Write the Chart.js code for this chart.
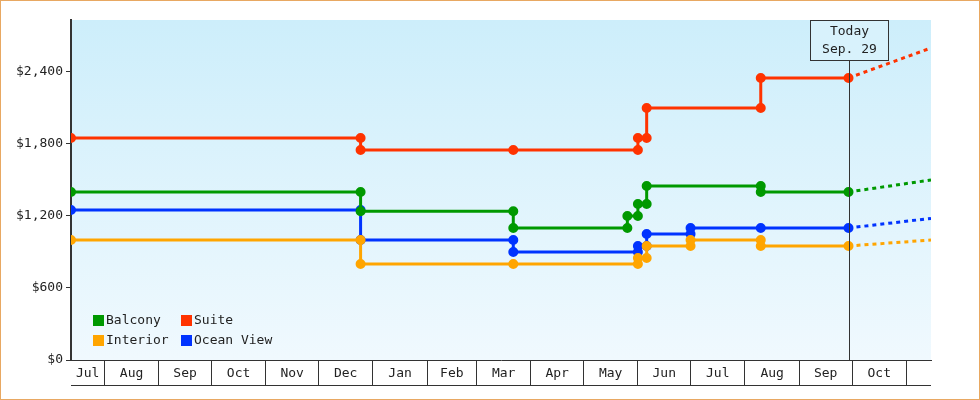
<!DOCTYPE html>
<html><head><meta charset="utf-8">
<script src="https://cdn.jsdelivr.net/npm/chart.js@4/dist/chart.umd.min.js"></script>
<style>
html,body{margin:0;padding:0;background:#fff;}
#wrap{position:absolute;left:0;top:0;width:978px;height:398px;border:1px solid #e8a862;}
</style></head><body>
<div id="wrap"><canvas id="c" width="978" height="398"></canvas></div>
<script>
const seriesNames = ["Balcony","Suite","Interior","Ocean View"];
const seriesColors = ["#009900","#ff3300","#ffa500","#0033ff"];
const balconyDates = ["2014-07-13","2014-12-25","2014-12-25","2015-03-22","2015-03-22","2015-05-26","2015-05-26","2015-06-01","2015-06-01","2015-06-06","2015-06-06","2015-08-10","2015-08-10","2015-09-29"];
const balconyPrices = [1400,1400,1240,1240,1100,1100,1200,1200,1300,1300,1450,1450,1400,1400];
const suiteDates = ["2014-07-13","2014-12-25","2014-12-25","2015-03-22","2015-06-01","2015-06-01","2015-06-06","2015-06-06","2015-08-10","2015-08-10","2015-09-29"];
const suitePrices = [1850,1850,1750,1750,1750,1850,1850,2100,2100,2350,2350];
const interiorDates = ["2014-07-13","2014-12-25","2014-12-25","2015-03-22","2015-06-01","2015-06-01","2015-06-06","2015-06-06","2015-07-01","2015-07-01","2015-08-10","2015-08-10","2015-09-29"];
const interiorPrices = [1000,1000,800,800,800,850,850,950,950,1000,1000,950,950];
const oceanDates = ["2014-07-13","2014-12-25","2014-12-25","2015-03-22","2015-03-22","2015-06-01","2015-06-01","2015-06-06","2015-06-06","2015-07-01","2015-07-01","2015-08-10","2015-09-29"];
const oceanPrices = [1250,1250,1000,1000,900,900,950,950,1050,1050,1100,1100,1100];
const todayDate = "2015-09-29";
const todayLabel = ["Today","Sep. 29"];
const forecastEndDate = "2015-11-15";
const forecastPrices = [1500,2600,1000,1180]; // Balcony, Suite, Interior, Ocean View
const monthStarts = ["2014-08-01","2014-09-01","2014-10-01","2014-11-01","2014-12-01","2015-01-01","2015-02-01","2015-03-01","2015-04-01","2015-05-01","2015-06-01","2015-07-01","2015-08-01","2015-09-01","2015-10-01","2015-11-01"];
const monthLabels = ["Jul","Aug","Sep","Oct","Nov","Dec","Jan","Feb","Mar","Apr","May","Jun","Jul","Aug","Sep","Oct"];
const startDate = "2014-07-13";
const yTicks = [0,600,1200,1800,2400];

const day = s => Date.parse(s+"T00:00:00Z")/86400000;
const X0 = day(startDate), X1 = day(forecastEndDate);
const allDates = [balconyDates,suiteDates,interiorDates,oceanDates];
const allPrices = [balconyPrices,suitePrices,interiorPrices,oceanPrices];
const datasets = [];
allDates.forEach((d,i)=>{
  datasets.push({label:seriesNames[i],data:d.map((s,j)=>({x:day(s),y:allPrices[i][j]})),
    borderColor:seriesColors[i],backgroundColor:seriesColors[i],borderWidth:3,pointRadius:3.5,pointHoverRadius:3.5,tension:0});
});
allDates.forEach((d,i)=>{
  datasets.push({label:"_f",data:[{x:day(todayDate),y:allPrices[i][allPrices[i].length-1]},{x:X1,y:forecastPrices[i]}],
    borderColor:seriesColors[i],borderWidth:3,borderDash:[4,4],pointRadius:0,tension:0});
});
const starts = [X0].concat(monthStarts.map(day));
const ends = monthStarts.map(day).concat([X1]);
const mids = monthLabels.map((l,i)=>(starts[i]+ends[i])/2);
const FONT = {family:"'DejaVu Sans Mono', monospace", size:13};

const plugin = {
  id:'deco',
  beforeDraw(ch){
    const a=ch.chartArea, c=ch.ctx;
    const g=c.createLinearGradient(0,a.top,0,a.bottom);
    g.addColorStop(0,'#cdeefb'); g.addColorStop(1,'#f0f9fe');
    c.fillStyle=g; c.fillRect(a.left,a.top,a.right-a.left,a.bottom-a.top);
  },
  afterDatasetsDraw(ch){
    const a=ch.chartArea, c=ch.ctx, xs=ch.scales.x;
    const tx=Math.round(xs.getPixelForValue(day(todayDate)))+0.5;
    c.save();
    c.strokeStyle='#333'; c.lineWidth=1;
    c.beginPath(); c.moveTo(tx,a.top); c.lineTo(tx,a.bottom); c.stroke();
    c.fillStyle='#d8f2fc'; c.fillRect(tx-39,a.top,78,40); c.strokeRect(tx-39,a.top+0.5,78,40);
    c.fillStyle='#222'; c.font="13px 'DejaVu Sans Mono'"; c.textAlign='center'; c.textBaseline='middle';
    c.fillText(todayLabel[0],tx,a.top+12); c.fillText(todayLabel[1],tx,a.top+30);
    // bottom line of axis cells
    c.beginPath(); c.moveTo(a.left,a.bottom+25.5); c.lineTo(a.right,a.bottom+25.5); c.stroke();
    // legend
    const pos=[[a.left+22,a.bottom-40],[a.left+110,a.bottom-40],[a.left+22,a.bottom-20],[a.left+110,a.bottom-20]];
    c.textAlign='left';
    seriesNames.forEach((n,i)=>{
      const [lx,ly]=pos[i];
      c.fillStyle=seriesColors[i]; c.fillRect(lx,ly-5,11,11);
      c.fillStyle='#222'; c.fillText(n,lx+13,ly+1);
    });
    c.restore();
  }
};

new Chart(document.getElementById('c'),{
  type:'line',
  data:{datasets},
  options:{
    responsive:false,animation:false,
    layout:{padding:{left:0,right:48,top:19,bottom:13}},
    plugins:{legend:{display:false},tooltip:{enabled:false}},
    scales:{
      x:{type:'linear',min:X0,max:X1,
        afterBuildTicks(s){s.ticks=starts.slice(1).map(v=>({value:v})).concat(mids.map(v=>({value:v,mid:true})));},
        afterFit(s){s.height=26;},
        grid:{drawOnChartArea:false,tickLength:25,color:ctx=>(ctx.tick&&ctx.tick.mid)?'rgba(0,0,0,0)':'#333',lineWidth:1},
        border:{color:'#333',width:1},
        ticks:{autoSkip:false,maxRotation:0,padding:-19,color:'#222',font:FONT,
          callback:(v)=>{const i=mids.findIndex(m=>Math.abs(m-v)<0.01);return i>=0?monthLabels[i]:'';}}
      },
      y:{min:0,max:2833,
        afterBuildTicks(s){s.ticks=yTicks.map(v=>({value:v}));},
        afterFit(s){s.width=70;},
        grid:{drawOnChartArea:false,tickLength:5,color:'#333'},
        border:{color:'#333',width:2},
        ticks:{padding:3,color:'#222',font:FONT,callback:v=>'$'+v.toLocaleString('en-US')}
      }
    }
  },
  plugins:[plugin]
});
</script></body></html>
